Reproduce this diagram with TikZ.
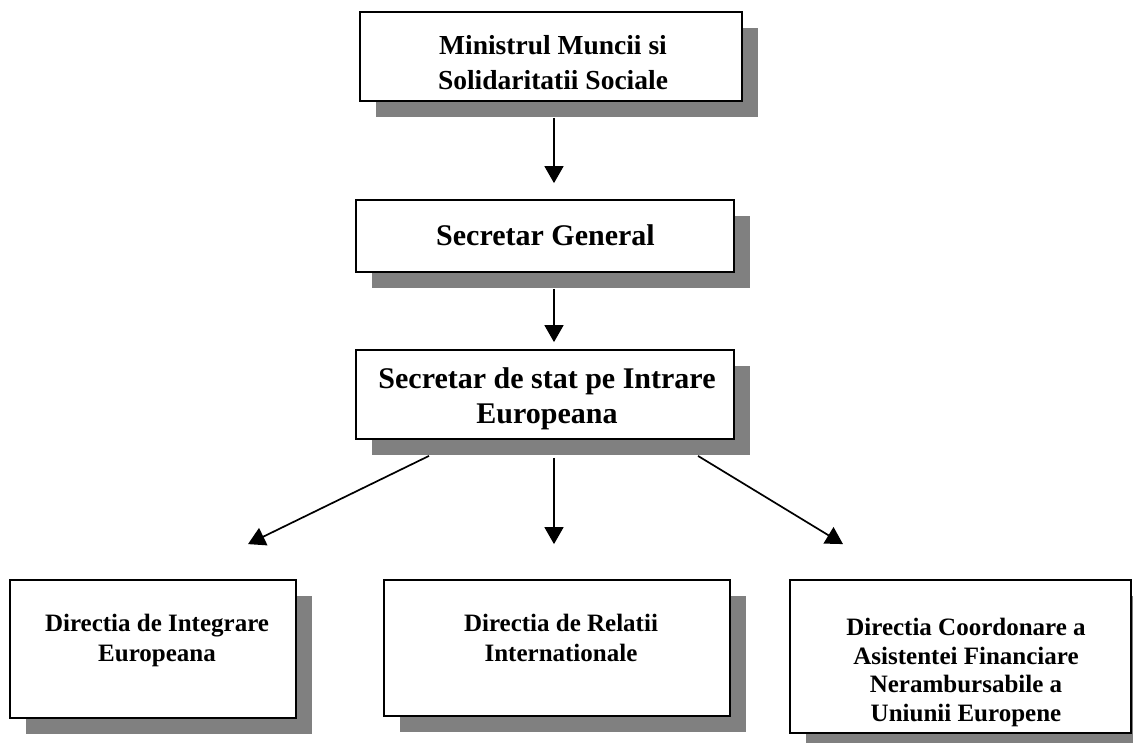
\documentclass[tikz,border=0pt]{standalone}
\usepackage{fontspec}
\setmainfont{Liberation Serif}
\usetikzlibrary{arrows.meta,calc,shadows}
\definecolor{shadowgray}{HTML}{808080}
\begin{document}
\begin{tikzpicture}[x=1pt,y=-1pt,
  box/.style={draw=black, line width=1.8pt, fill=white, rectangle, inner sep=0pt,
    drop shadow={shadow xshift=16pt, shadow yshift=-16pt, fill=shadowgray, opacity=1}},
  lbl/.style={align=center, inner sep=0pt},
  bigfont/.style={font=\bfseries\fontsize{27.5}{35}\selectfont},
  midfont/.style={font=\bfseries\fontsize{30}{35}\selectfont},
  smallfont/.style={font=\bfseries\fontsize{25}{29.5}\selectfont},
  arr/.style={line width=1.7pt, -{Triangle[length=17pt,width=19pt]}}]
\useasboundingbox (0,0) rectangle (1133,742);
\clip (0,0) rectangle (1133,742);
\fill[white] (0,0) rectangle (1133,742);

% boxes
\node[box, minimum width=382pt, minimum height=89pt] (b1) at (551,56.5) {};
\node[box, minimum width=378pt, minimum height=72pt] (b2) at (545,236) {};
\node[box, minimum width=378pt, minimum height=89pt] (b3) at (545,394.5) {};
\node[box, minimum width=286pt, minimum height=138pt] (b4) at (153,649) {};
\node[box, minimum width=346pt, minimum height=136pt] (b5) at (557,648) {};
\node[box, minimum width=341pt, minimum height=153pt] (b6) at (960.5,656.5) {};

% labels
\node[lbl, bigfont] (t1) at (553,63) {Ministrul Muncii si\\Solidaritatii Sociale};
\node[lbl, midfont] (t2) at (545.5,234.8) {Secretar General};
\node[lbl, midfont] (t3) at (547,398.4) {Secretar de stat pe Intrare\\Europeana};
\node[lbl, smallfont] (t4) at (157,640.5) {Directia de Integrare\\Europeana};
\node[lbl, smallfont] (t5) at (561,637.8) {Directia de Relatii\\Internationale};
\node[lbl, font=\bfseries\fontsize{25}{28.7}\selectfont] (t6) at (966,672.5) {Directia Coordonare a\\Asistentei Financiare\\Nerambursabile a\\Uniunii Europene};

% connectors
\draw[arr] ($(b1.south)+(3,16)$) -- ($(b2.north)+(9,-16)$);
\draw[arr] ($(b2.south)+(9,16)$) -- ($(b3.north)+(9,-7)$);
\draw[arr] ($(b3.south)+(-116,16)$) -- ($(b4.north)+(95,-35)$);
\draw[arr] ($(b3.south)+(9,18)$) -- ($(b5.north)+(-3,-35)$);
\draw[arr] ($(b3.south)+(153,16)$) -- ($(b6.north)+(-117.5,-35)$);
\end{tikzpicture}
\end{document}
